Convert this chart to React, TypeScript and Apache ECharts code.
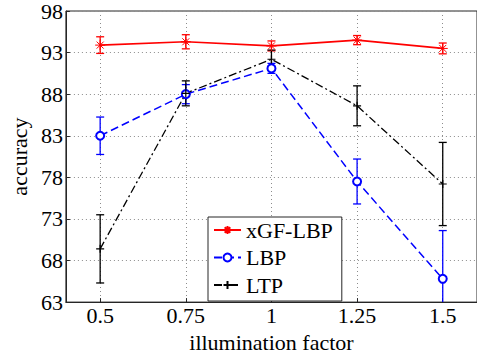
import React, { useEffect, useRef } from "react";
import * as echarts from "echarts";

const xValues = [0.5, 0.75, 1, 1.25, 1.5];
const xTicks = [0.5, 0.75, 1, 1.25, 1.5];
const yTicks = [63, 68, 73, 78, 83, 88, 93, 98];

const xgfMean = [93.9, 94.3, 93.8, 94.5, 93.5];
const xgfErr = [1.0, 0.85, 0.6, 0.55, 0.65];
const lbpMean = [83.0, 88.0, 91.1, 77.5, 65.8];
const lbpErr = [2.25, 1.15, 0.6, 2.7, 5.8];
const ltpMean = [69.4, 88.1, 92.2, 86.6, 77.2];
const ltpErr = [4.1, 1.5, 1.1, 2.4, 5.0];

const FONT = "Liberation Serif";

const asterisk = "path://M0,-5L0,5M-5,0L5,0M-3.5,-3.5L3.5,3.5M-3.5,3.5L3.5,-3.5";
const plus = "path://M-5,0L5,0M0,-5L0,5";

function errSeries(name: string, means: number[], errs: number[], color: string) {
  return {
    type: "custom",
    name: name + "-err",
    clip: true,
    silent: true,
    z: 3,
    data: xValues.map((x, i) => [x, means[i] - errs[i], means[i] + errs[i]]),
    renderItem: (params: any, api: any) => {
      const x = api.value(0);
      const lo = api.coord([x, api.value(1)]);
      const hi = api.coord([x, api.value(2)]);
      const w = 4;
      const style = { stroke: color, lineWidth: 1.3 };
      return {
        type: "group",
        children: [
          { type: "line", shape: { x1: lo[0], y1: lo[1], x2: hi[0], y2: hi[1] }, style },
          { type: "line", shape: { x1: lo[0] - w, y1: lo[1], x2: lo[0] + w, y2: lo[1] }, style },
          { type: "line", shape: { x1: hi[0] - w, y1: hi[1], x2: hi[0] + w, y2: hi[1] }, style },
        ],
      };
    },
  };
}

export default function App() {
  const ref = useRef<HTMLDivElement>(null);
  useEffect(() => {
    document.body.style.margin = "0";
    if (!ref.current) return;
    const chart = echarts.init(ref.current, null, { renderer: "svg" });
    const axisLineStyle = { color: "#262626", width: 1 };
    const textBase = { fontFamily: FONT, fontSize: 22, fontWeight: "normal", color: "#000" };
    chart.setOption({
      animation: false,
      backgroundColor: "#ffffff",
      textStyle: { fontFamily: FONT, fontWeight: "normal" },
      grid: {
        left: 65,
        top: 7,
        bottom: 53,
        right: -2.5,
        show: true,
        borderColor: "#262626",
        borderWidth: 1,
        backgroundColor: "transparent",
      },
      xAxis: {
        type: "value",
        min: 0.4,
        max: 1.6,
        name: "illumination factor",
        nameLocation: "middle",
        nameGap: 24,
        nameTextStyle: { ...textBase, lineHeight: 22 },
        axisLine: { show: true, lineStyle: axisLineStyle },
        axisTick: { show: true, inside: true, length: 4, customValues: xTicks, lineStyle: axisLineStyle },
        axisLabel: {
          ...textBase,
          customValues: xTicks,
          margin: 2,
          lineHeight: 22,
          formatter: (v: number) => String(v),
        },
        splitLine: { show: true, lineStyle: { color: "#8c8c8c", type: [1, 3], width: 1 } },
      },
      yAxis: {
        type: "value",
        min: 63,
        max: 98,
        name: "accuracy",
        nameLocation: "middle",
        nameGap: 27,
        nameTextStyle: { ...textBase, lineHeight: 22 },
        axisLine: { show: true, lineStyle: axisLineStyle },
        axisTick: { show: true, inside: true, length: 4, customValues: yTicks, lineStyle: axisLineStyle },
        axisLabel: {
          ...textBase,
          customValues: yTicks,
          margin: 3,
          formatter: (v: number) => String(v),
        },
        splitLine: { show: true, lineStyle: { color: "#8c8c8c", type: [1, 3], width: 1 } },
      },
      legend: {
        orient: "vertical",
        left: 208,
        top: 217,
        padding: [2, 9, 5, 5],
        itemGap: 5.5,
        itemWidth: 27,
        itemHeight: 10,
        backgroundColor: "#fff",
        borderColor: "#262626",
        borderWidth: 1,
        borderRadius: 0,
        textStyle: { ...textBase, lineHeight: 22 },
        data: ["xGF-LBP", "LBP", "LTP"],
      },
      series: [
        errSeries("xGF-LBP", xgfMean, xgfErr, "#ff0000"),
        {
          type: "line",
          name: "xGF-LBP",
          z: 4,
          data: xValues.map((x, i) => [x, xgfMean[i]]),
          symbol: asterisk,
          symbolSize: 10,
          itemStyle: { color: "none", borderColor: "#ff0000", borderWidth: 1 },
          lineStyle: { color: "#ff0000", width: 1.7, type: "solid" },
        },
        errSeries("LBP", lbpMean, lbpErr, "#0000ff"),
        {
          type: "line",
          name: "LBP",
          z: 4,
          data: xValues.map((x, i) => [x, lbpMean[i]]),
          symbol: "emptyCircle",
          symbolSize: 8,
          itemStyle: { color: "#0000ff", borderColor: "#0000ff", borderWidth: 1.3 },
          lineStyle: { color: "#0000ff", width: 1.5, type: [8, 4] },
        },
        errSeries("LTP", ltpMean, ltpErr, "#000000"),
        {
          type: "line",
          name: "LTP",
          z: 4,
          data: xValues.map((x, i) => [x, ltpMean[i]]),
          symbol: plus,
          symbolSize: 8,
          itemStyle: { color: "#000000", borderColor: "#000000", borderWidth: 1.2 },
          lineStyle: { color: "#000000", width: 1.3, type: [8, 3, 2, 3] },
        },
      ],
    });
    return () => chart.dispose();
  }, []);
  return <div ref={ref} style={{ width: 477, height: 358 }} />;
}
